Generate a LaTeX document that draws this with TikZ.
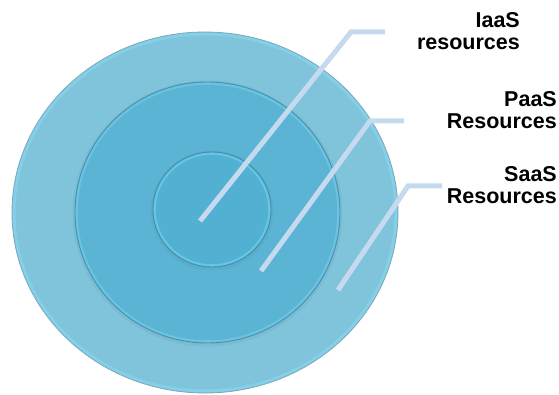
\documentclass[tikz,border=0pt]{standalone}
\usepackage{fontspec}
\setmainfont{Liberation Sans}
\definecolor{outerc}{HTML}{80C4DB}
\definecolor{outerrim}{HTML}{86D3EC}
\definecolor{outeredge}{HTML}{7DA8B8}
\definecolor{midc}{HTML}{5CB4D4}
\definecolor{midrim}{HTML}{6CC8E8}
\definecolor{midedge}{HTML}{4F8EA5}
\definecolor{innc}{HTML}{52B0D3}
\definecolor{innrim}{HTML}{68CCEE}
\definecolor{innedge}{HTML}{4C8AA0}
\definecolor{shadowc}{HTML}{3F7F96}
\definecolor{leadc}{HTML}{C6DAEF}
\begin{document}
\begin{tikzpicture}[x=1pt,y=-1pt,
  lead/.style={draw=leadc, line width=5pt, line join=miter},
  lbl/.style={font=\fontsize{21.5}{22.5}\selectfont\bfseries, align=right, inner sep=0pt, text=black}]
\useasboundingbox (0,0) rectangle (559,395);
% outer disc
\fill[outerc] (205,212.5) ellipse [x radius=193, y radius=180.5];
\draw[outerrim, line width=3pt, opacity=0.8] (205,212.5) ellipse [x radius=191, y radius=178.5];
\draw[outeredge, line width=0.8pt] (205,212.5) ellipse [x radius=193, y radius=180.5];
% middle disc
\draw[shadowc, line width=3pt, opacity=0.12] (207.5,213.5) ellipse [x radius=133.5, y radius=131.5];
\fill[midc] (207.5,212.5) ellipse [x radius=132.5, y radius=130.5];
\draw[midrim, line width=2.5pt, opacity=0.8] (207.5,212.5) ellipse [x radius=131, y radius=129];
\draw[midedge, line width=0.9pt] (207.5,212.5) ellipse [x radius=132.5, y radius=130.5];
% inner disc
\draw[shadowc, line width=3pt, opacity=0.12] (212,210.5) ellipse [x radius=60, y radius=58.5];
\fill[innc] (212,209.5) ellipse [x radius=59, y radius=57.5];
\draw[innrim, line width=2.5pt, opacity=0.8] (212,209.5) ellipse [x radius=57.5, y radius=56];
\draw[innedge, line width=0.9pt] (212,209.5) ellipse [x radius=59, y radius=57.5];
% leader lines
\coordinate (a1) at (200,221); \coordinate (a2) at (351,32); \coordinate (a3) at (385,32);
\coordinate (b1) at (261,271); \coordinate (b2) at (370,121); \coordinate (b3) at (404,121);
\coordinate (c1) at (338,290); \coordinate (c2) at (408,186); \coordinate (c3) at (442,186);
\draw[lead] (a1) -- (a2) -- (a3);
\draw[lead] (b1) -- (b2) -- (b3);
\draw[lead] (c1) -- (c2) -- (c3);
% labels (base anchor = baseline of last line)
\node[lbl, anchor=base east] (iaas) at (520,50) {IaaS\\resources};
\node[lbl, anchor=base east] (paas) at (557,129) {PaaS\\Resources};
\node[lbl, anchor=base east] (saas) at (557,204) {SaaS\\Resources};
\end{tikzpicture}
\end{document}
